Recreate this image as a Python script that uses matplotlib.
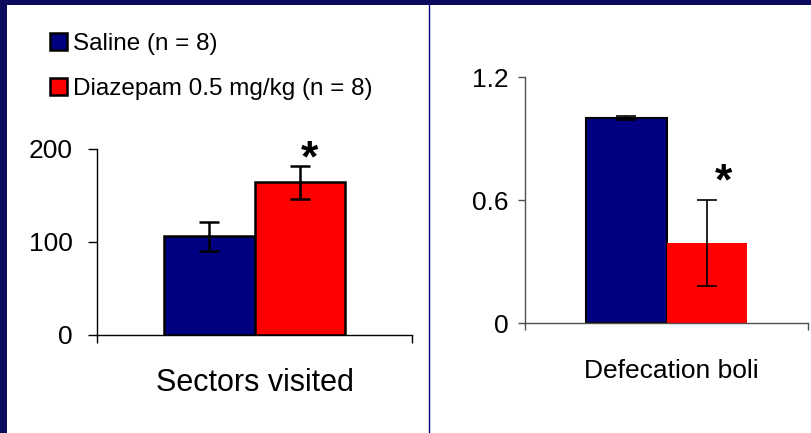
import matplotlib
matplotlib.use('Agg')
import matplotlib.pyplot as plt
from matplotlib.patches import Rectangle
from matplotlib.lines import Line2D

plt.rcParams['font.family'] = ['Liberation Sans', 'DejaVu Sans']

groups = ['Saline (n = 8)', 'Diazepam 0.5 mg/kg (n = 8)']
colors = ['#000080', '#ff0000']
sectors_mean = [106, 164]
sectors_sem = [16, 18]
boli_mean = [1.0, 0.39]
boli_sem = [0.01, 0.21]

W, H = 811, 433
fig = plt.figure(figsize=(W / 100, H / 100), dpi=100, facecolor='#0b0b5e')


def box(x0, y0, x1, y1):
    # pixel box (top-left origin) -> figure fraction rect
    return [x0 / W, 1 - y1 / H, (x1 - x0) / W, (y1 - y0) / H]


# white slide area and the thin divider between the two charts
fig.patches.append(Rectangle((7 / W, 0), 1, 1 - 5 / H, transform=fig.transFigure,
                             facecolor='white', edgecolor='none', zorder=-1))
fig.lines.append(Line2D([428.5 / W] * 2, [0, 1 - 5 / H], transform=fig.transFigure,
                        color='#000080', lw=1))

w = 0.286
xs = [0.5 - w / 2, 0.5 + w / 2]

# sectors visited
ax1 = fig.add_axes(box(97, 149, 412, 335))
ax1.set_facecolor('none')
bars1 = ax1.bar(xs, sectors_mean, width=w, color=colors, edgecolor='black', linewidth=1.8,
                yerr=sectors_sem,
                error_kw=dict(ecolor='black', elinewidth=1.8, capsize=7.5, capthick=1.8))
ax1.set_xlim(0, 1)
ax1.set_ylim(0, 200)
ax1.set_yticks([0, 100, 200])
ax1.set_xticks([0, 1])
ax1.set_xticklabels([])
ax1.tick_params(axis='y', labelsize=19, length=6.5, width=1, pad=11, color='black')
ax1.tick_params(axis='x', length=6, width=1, direction='out')
for s in ['top', 'right']:
    ax1.spines[s].set_visible(False)
for s in ['left', 'bottom']:
    ax1.spines[s].set_linewidth(1)
ax1.annotate('*', xy=(xs[1], sectors_mean[1] + sectors_sem[1]), xytext=(10, 26),
             textcoords='offset pixels', ha='center', va='top',
             fontsize=32, fontweight='bold')

# defecation boli
ax2 = fig.add_axes(box(525, 77.3, 808, 323.3))
ax2.set_facecolor('none')
ax2.bar(xs, boli_mean, width=w, color=colors, edgecolor=['black', 'none'], linewidth=1.5,
        yerr=boli_sem,
        error_kw=dict(ecolor='black', elinewidth=1.2, capsize=7, capthick=1.2))
ax2.set_xlim(0, 1)
ax2.set_ylim(0, 1.2)
ax2.set_yticks([0, 0.6, 1.2])
ax2.set_yticklabels(['0', '0.6', '1.2'])
ax2.set_xticks([0, 1])
ax2.set_xticklabels([])
ax2.tick_params(axis='y', labelsize=19, length=5, width=1, pad=7, color='#505050')
ax2.tick_params(axis='x', length=5, width=1, direction='out', color='#505050')
for s in ['top', 'right']:
    ax2.spines[s].set_visible(False)
for s in ['left', 'bottom']:
    ax2.spines[s].set_color('#505050')
    ax2.spines[s].set_linewidth(1)
ax2.annotate('*', xy=(xs[1], boli_mean[1] + boli_sem[1]), xytext=(16, 38),
             textcoords='offset pixels', ha='center', va='top',
             fontsize=32, fontweight='bold')

fig.text(255 / W, 1 - 391 / H, 'Sectors visited', ha='center', va='baseline', fontsize=22)
fig.text(671 / W, 1 - 378 / H, 'Defecation boli', ha='center', va='baseline', fontsize=19)

fig.legend(bars1.patches, groups, loc='upper left', bbox_to_anchor=(50 / W, 1 - 33 / H),
           frameon=False, fontsize=17.5, handlelength=0.7, handleheight=0.7,
           handletextpad=0.25, labelspacing=0.95, borderaxespad=0, borderpad=0)

fig.savefig('out.png', dpi=100, facecolor=fig.get_facecolor())
